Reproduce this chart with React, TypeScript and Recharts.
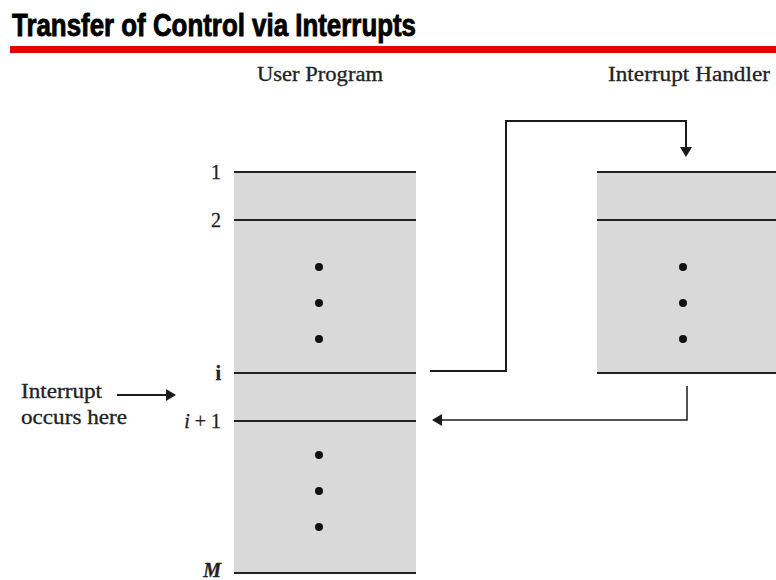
import {
  ComposedChart,
  XAxis,
  YAxis,
  Line,
  Scatter,
  ReferenceArea,
  ReferenceLine,
} from "recharts";

// diagram space: one unit = one pixel of the slide, y grows downward
const headings = [
  { x: 257, y: 81, text: "User Program", width: 126 },
  { x: 608, y: 81, text: "Interrupt Handler", width: 162 },
];

const noteLines = [
  { x: 21, y: 398, text: "Interrupt", width: 81 },
  { x: 21, y: 424, text: "occurs here", width: 106 },
];

const programRows = [
  { label: "1", y: 172 },
  { label: "2", y: 220 },
  { label: "i", y: 373 },
  { label: "i + 1", y: 421 },
  { label: "M", y: 573 },
];
const programBox = { x1: 234, x2: 416, y1: 172, y2: 573 };
const programDots = [267, 303, 339, 455, 491, 527].map((y) => ({ x: 319, y }));

const handlerRows = [172, 220, 373];
const handlerBox = { x1: 597, x2: 776, y1: 172, y2: 373 };
const handlerDots = [267, 303, 339].map((y) => ({ x: 683, y }));

const jumpPath = [
  { x: 430, y: 371 },
  { x: 506, y: 371 },
  { x: 506, y: 121 },
  { x: 686, y: 121 },
  { x: 686, y: 150 },
];
const returnPath = [
  { x: 687, y: 386 },
  { x: 687, y: 420 },
  { x: 440, y: 420 },
];
const notePointer = [
  { x: 117, y: 395 },
  { x: 168, y: 395 },
];
const arrowHeads = [
  { x: 686, y: 157, dir: "down" },
  { x: 432, y: 420, dir: "left" },
  { x: 176, y: 395, dir: "right" },
];

const SERIF = "'Liberation Serif', 'DejaVu Serif', serif";
const INK = "#1a1a1a";

function HeadingText(props: any) {
  const { cx, cy, payload } = props;
  return (
    <text
      x={cx}
      y={cy}
      fontFamily={SERIF}
      fontSize={20}
      fill="#222"
      stroke="#222"
      strokeWidth={0.3}
      textLength={payload.width}
      lengthAdjust="spacingAndGlyphs"
    >
      {payload.text}
    </text>
  );
}

function RowLabel(props: any) {
  const { cx, cy, payload } = props;
  const label: string = payload.label;
  let content: React.ReactNode = label;
  let dy = 7;
  if (label === "M") {
    dy = 4;
    content = (
      <tspan fontStyle="italic" fontWeight="bold">
        M
      </tspan>
    );
  } else if (label === "i") {
    content = <tspan fontWeight="bold">i</tspan>;
  } else if (label.startsWith("i +")) {
    content = (
      <>
        <tspan fontStyle="italic">i</tspan>
        {label.slice(1)}
      </>
    );
  }
  return (
    <text
      x={cx - 13}
      y={cy + dy}
      textAnchor="end"
      fontFamily={SERIF}
      fontSize={20}
      fill="#222"
      stroke="#222"
      strokeWidth={0.3}
    >
      {content}
    </text>
  );
}

function Head(props: any) {
  const { cx, cy, payload } = props;
  const s = 6;
  let pts = "";
  if (payload.dir === "down") pts = `${cx - s},${cy - 10} ${cx + s},${cy - 10} ${cx},${cy}`;
  if (payload.dir === "left") pts = `${cx + 10},${cy - s} ${cx + 10},${cy + s} ${cx},${cy}`;
  if (payload.dir === "right") pts = `${cx - 10},${cy - s} ${cx - 10},${cy + s} ${cx},${cy}`;
  return <polygon points={pts} fill={INK} />;
}

function Dot(props: any) {
  const { cx, cy } = props;
  return <circle cx={cx} cy={cy} r={4} fill="#111" />;
}

export default function App() {
  return (
    <div style={{ position: "absolute", left: 0, top: 0, background: "#fff" }}>
      <ComposedChart width={776} height={580} margin={{ top: 0, right: 0, bottom: 0, left: 0 }}>
        <XAxis type="number" dataKey="x" domain={[0, 776]} hide allowDataOverflow />
        <YAxis type="number" dataKey="y" domain={[0, 580]} reversed hide allowDataOverflow />

        {/* red rule under the title */}
        <ReferenceArea x1={10} x2={776} y1={46} y2={53} fill="#e10600" fillOpacity={1} stroke="none" />

        {/* boxes */}
        <ReferenceArea {...programBox} fill="#d9d9d9" fillOpacity={1} stroke="none" />
        <ReferenceArea {...handlerBox} fill="#d9d9d9" fillOpacity={1} stroke="none" />

        {programRows.map((r) => (
          <ReferenceLine
            key={r.label}
            segment={[
              { x: programBox.x1, y: r.y },
              { x: programBox.x2, y: r.y },
            ]}
            stroke="#222"
            strokeWidth={2}
          />
        ))}
        {handlerRows.map((y) => (
          <ReferenceLine
            key={y}
            segment={[
              { x: handlerBox.x1, y },
              { x: handlerBox.x2, y },
            ]}
            stroke="#222"
            strokeWidth={2}
          />
        ))}

        <Line data={jumpPath} dataKey="y" type="linear" stroke={INK} strokeWidth={2} dot={false} isAnimationActive={false} />
        <Line data={returnPath} dataKey="y" type="linear" stroke={INK} strokeWidth={1.5} dot={false} isAnimationActive={false} />
        <Line data={notePointer} dataKey="y" type="linear" stroke={INK} strokeWidth={2} dot={false} isAnimationActive={false} />

        <Scatter data={arrowHeads} shape={Head} isAnimationActive={false} />
        <Scatter data={programDots} shape={Dot} isAnimationActive={false} />
        <Scatter data={handlerDots} shape={Dot} isAnimationActive={false} />

        <Scatter
          data={programRows.map((r) => ({ ...r, x: programBox.x1 }))}
          shape={RowLabel}
          isAnimationActive={false}
        />
        <Scatter data={headings} shape={HeadingText} isAnimationActive={false} />
        <Scatter data={noteLines} shape={HeadingText} isAnimationActive={false} />

        <Scatter
          data={[{ x: 12, y: 36, text: "Transfer of Control via Interrupts" }]}
          shape={(p: any) => (
            <text
              x={p.cx}
              y={p.cy}
              fontFamily="'Liberation Sans', Arial, sans-serif"
              fontWeight="bold"
              fontSize={32}
              fill="#000"
              stroke="#000"
              strokeWidth={0.9}
              textLength={404}
              lengthAdjust="spacingAndGlyphs"
            >
              {p.payload.text}
            </text>
          )}
          isAnimationActive={false}
        />
      </ComposedChart>
    </div>
  );
}
